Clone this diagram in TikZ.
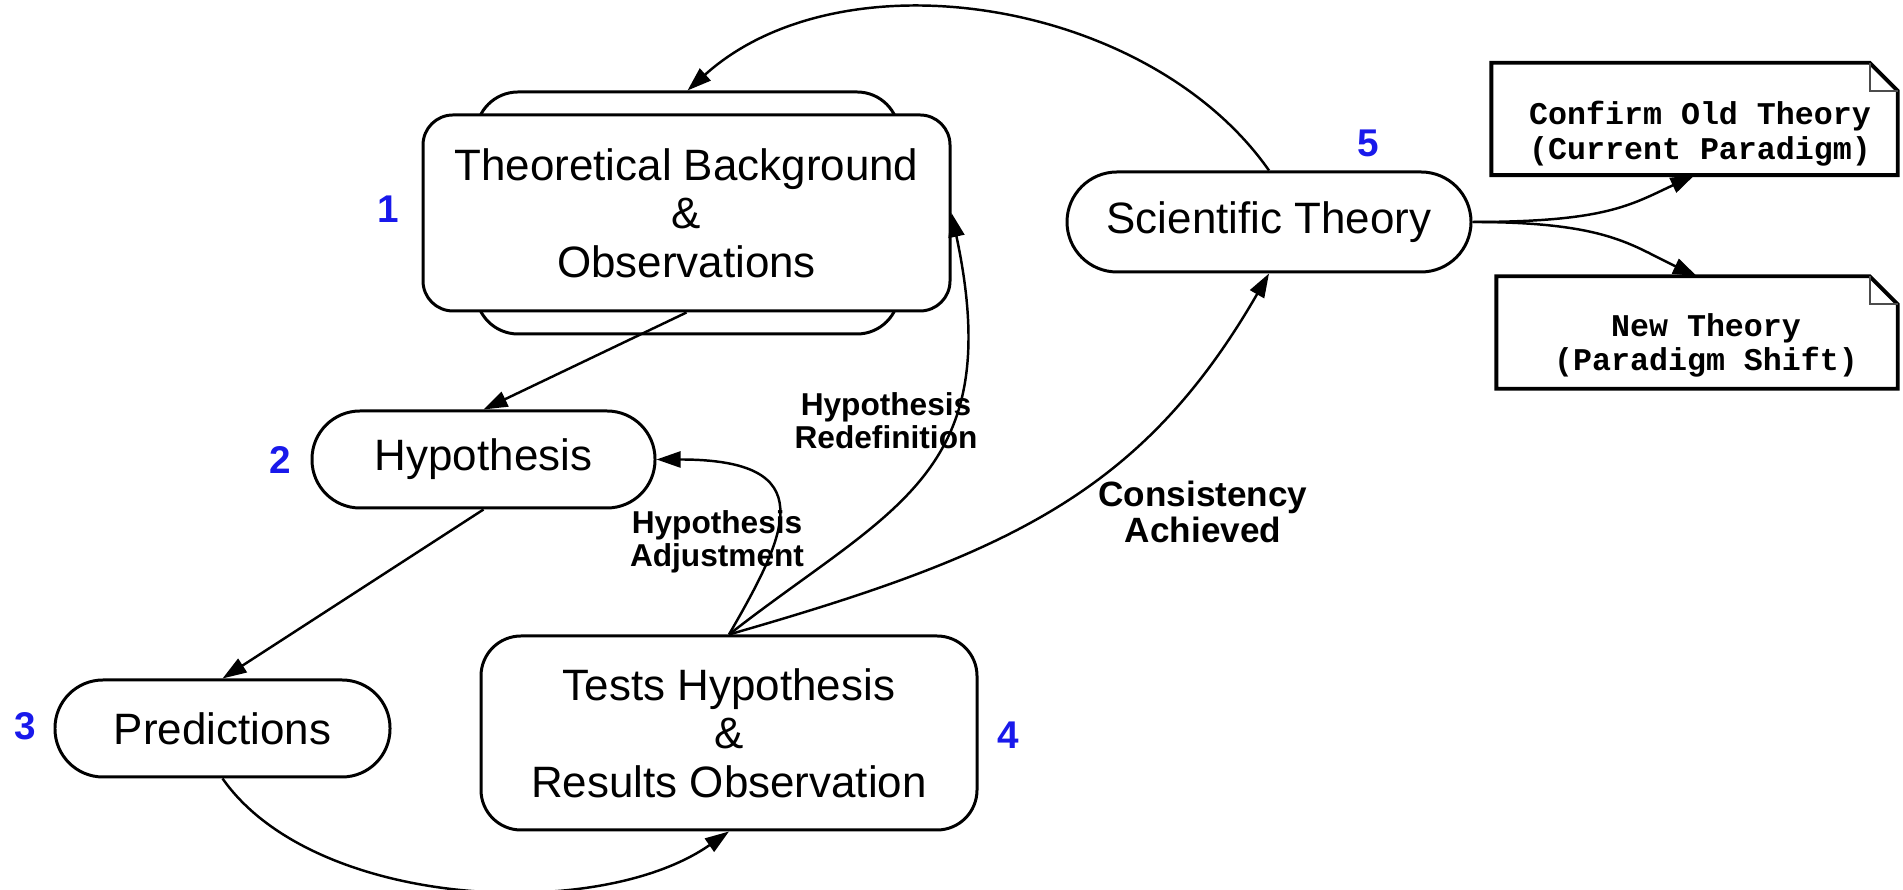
\documentclass[tikz,border=0pt]{standalone}
\usepackage{fontspec}
\setmainfont{Liberation Sans}
\newfontfamily\notefont{Liberation Mono}
\usetikzlibrary{arrows.meta}
\definecolor{numblue}{RGB}{25,25,235}

\begin{document}
\begin{tikzpicture}[
    box/.style={draw, line width=0.85pt, align=center, fill=white, inner sep=0pt,
      font=\fontsize{12.5}{13.8}\selectfont},
    pill/.style={box, rounded corners=4.8mm, minimum height=0.97cm},
    note/.style={minimum width=4.05cm, minimum height=1.11cm, inner sep=0pt},
    notetxt/.style={align=center, inner sep=0pt,
      font=\notefont\bfseries\fontsize{9}{9.8}\selectfont},
    lbl/.style={align=center, inner sep=0pt, font=\bfseries\fontsize{9}{9.4}\selectfont},
    num/.style={text=numblue, inner sep=0pt, font=\bfseries\fontsize{11}{13}\selectfont},
    arr/.style={-{Triangle[length=2.4mm,width=1.6mm]}, line width=0.7pt}
  ]
  \useasboundingbox (0,0) rectangle (19.03,8.90);
  % stacked box: back one first
  \node[box, rounded corners=4.2mm, minimum width=4.23cm, minimum height=2.42cm] (theoB) at (6.875,6.77) {};
  \node[box, rounded corners=3mm, minimum width=5.27cm, minimum height=1.96cm] (theo) at (6.865,6.77)
    {Theoretical Background\\\&\\Observations};
  \node[pill, minimum width=3.43cm] (hyp) at (4.835,4.305) {Hypothesis};
  \node[pill, minimum width=3.35cm] (pred) at (2.225,1.615) {Predictions};
  \node[box, rounded corners=4mm, minimum width=4.96cm, minimum height=1.94cm] (tests) at (7.29,1.57)
    {Tests Hypothesis\\\&\\Results Observation};
  \node[pill, rounded corners=5mm, minimum width=4.04cm, minimum height=1.0cm] (sci) at (12.69,6.68) {Scientific Theory};
  %
  % notes
  \node[note] (old) at (16.945,7.71) {};
  \node[note, minimum width=4.0cm] (new) at (16.97,5.575) {};
  \foreach \n in {old,new} {
    \draw[line width=1.1pt] (\n.south west) -- (\n.north west) -- ([xshift=-2.8mm]\n.north east)
      -- ([yshift=-2.8mm]\n.north east) -- (\n.south east) -- cycle;
    \draw[line width=0.5pt, black!70] ([xshift=-2.8mm]\n.north east) |- ([yshift=-2.8mm]\n.north east);
  }
  \node[notetxt] (oldtxt) at (17.00,7.565) {Confirm Old Theory\\(Current Paradigm)};
  \node[notetxt] (newtxt) at (17.06,5.445) {New Theory\\(Paradigm Shift)};
  %
  % step numbers
  \foreach \k/\x/\y in {1/3.88/6.81, 2/2.80/4.30, 3/0.25/1.64, 4/10.08/1.55, 5/13.68/7.47} {
    \node[num] (n\k) at (\x,\y) {\k};
  }
  %
  \draw[arr] (theo.south) -- (hyp.north);
  \draw[arr] (hyp.south) -- (pred.north);
  \draw[arr] (pred.south) to[out=-55,in=-145,looseness=0.8] (tests.south);
  \draw[arr] (tests.north) to[out=60,in=0,out looseness=1.6,in looseness=2.25] (hyp.east);
  \draw[arr] (tests.north) to[out=38,in=-78,out looseness=1.11,in looseness=1.44] (theo.east);
  \draw[arr] (tests.north) to[out=16,in=-120,out looseness=1.14,in looseness=1] (sci.south);
  \draw[arr] (sci.north) to[out=125,in=42,looseness=0.91] (theoB.north);
  \draw[arr] (sci.east) to[out=0,in=-155,out looseness=1.5,in looseness=0.8] (old.south);
  \draw[arr] (sci.east) to[out=0,in=155,out looseness=1.5,in looseness=0.8] (new.north);
  %
  \node[lbl] (redef) at (8.86,4.69) {Hypothesis\\Redefinition};
  \node[lbl] (adjust) at (7.17,3.48) {Hypothesis\\Adjustment};
  \node[lbl, font=\bfseries\fontsize{10}{10.5}\selectfont] (consist) at (12.03,3.78) {Consistency\\Achieved};
\end{tikzpicture}
\end{document}
